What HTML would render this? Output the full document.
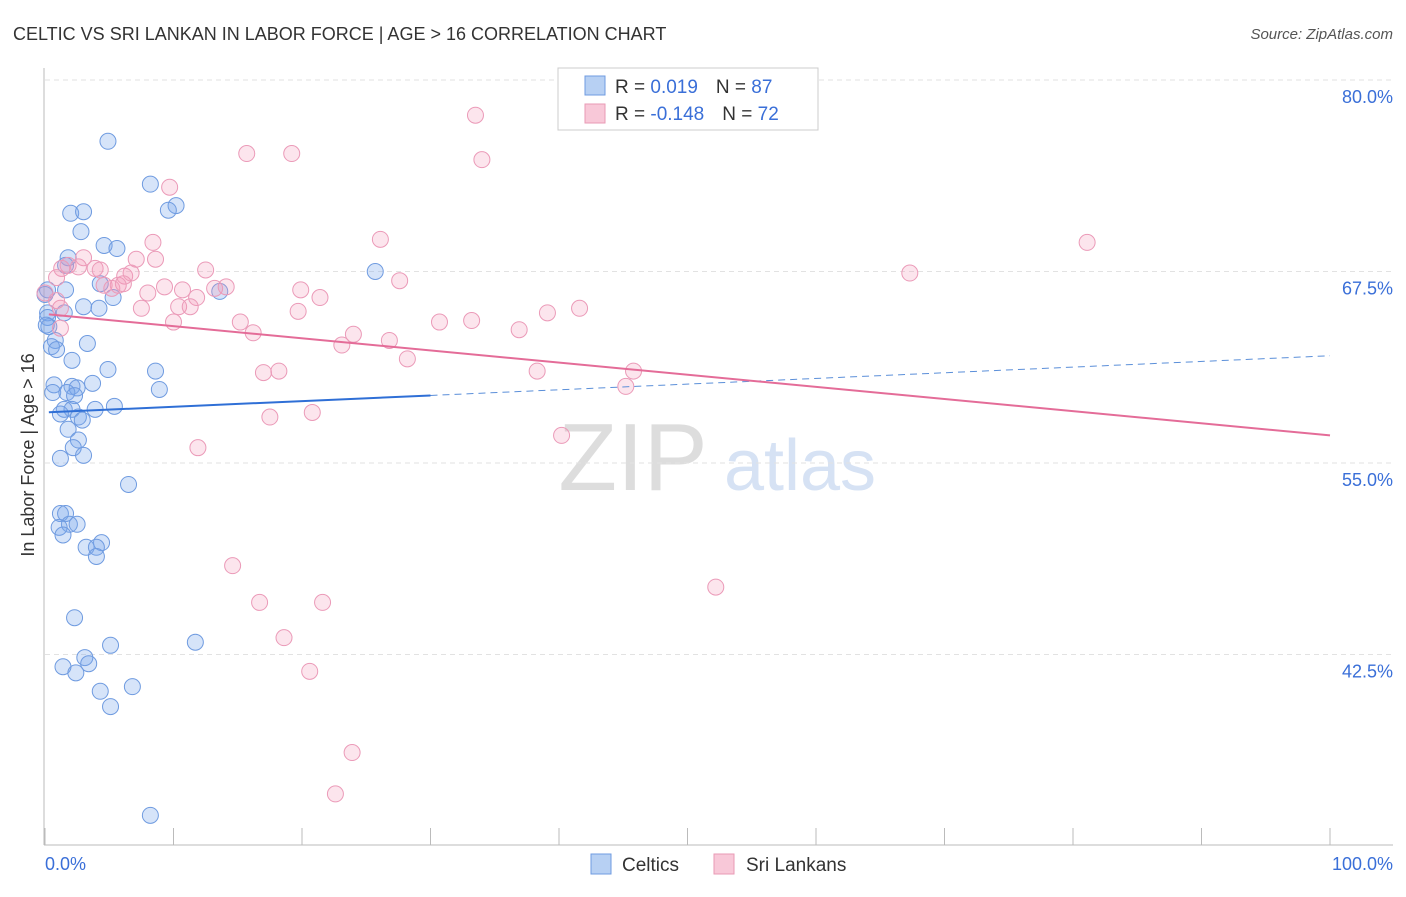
<!DOCTYPE html>
<html><head><meta charset="utf-8">
<style>
body{margin:0;background:#fff;font-family:"Liberation Sans",sans-serif;}
svg text{font-family:"Liberation Sans",sans-serif;}
</style></head>
<body>
<svg id="chart" width="1406" height="892" viewBox="0 0 1406 892">
<text x="13" y="40" font-size="18" fill="#333">CELTIC VS SRI LANKAN IN LABOR FORCE | AGE &gt; 16 CORRELATION CHART</text>
<text x="1393" y="39" font-size="15" fill="#555" font-style="italic" text-anchor="end">Source: ZipAtlas.com</text>
<g>
<text x="633" y="490" font-size="96" fill="#ddd" font-family="Liberation Serif" text-anchor="middle">ZIP</text>
<text x="800" y="490" font-size="72" fill="#d6e2f4" text-anchor="middle">atlas</text>
</g>
<g id="grid"></g>
<g id="axes"></g>
<g id="marks"></g>
<text transform="translate(34,455) rotate(-90)" font-size="18" fill="#333" text-anchor="middle">In Labor Force | Age &gt; 16</text>
<text x="45" y="870" font-size="18" fill="#3a6fd8">0.0%</text>
<text x="1393" y="870" font-size="18" fill="#3a6fd8" text-anchor="end">100.0%</text>
<g>
<rect x="558" y="68" width="260" height="62" fill="#fff" stroke="#ccc"/>
<rect x="585" y="76" width="20" height="19" fill="#b7d0f3" stroke="#6f9be0"/>
<rect x="585" y="104" width="20" height="19" fill="#f8c8d8" stroke="#e99ab5"/>
<text x="615" y="93" font-size="19" fill="#333">R = <tspan fill="#3a6fd8"> 0.019</tspan><tspan dx="18">N = </tspan><tspan fill="#3a6fd8">87</tspan></text>
<text x="615" y="120" font-size="19" fill="#333">R = <tspan fill="#3a6fd8">-0.148</tspan><tspan dx="18">N = </tspan><tspan fill="#3a6fd8">72</tspan></text>
</g>
<g>
<rect x="591" y="854" width="20" height="20" fill="#b7d0f3" stroke="#6f9be0"/>
<text x="622" y="871" font-size="19" fill="#333">Celtics</text>
<rect x="714" y="854" width="20" height="20" fill="#f8c8d8" stroke="#e99ab5"/>
<text x="746" y="871" font-size="19" fill="#333">Sri Lankans</text>
</g>
</svg>
<script>
const yTicks=[80,67.5,55,42.5];
const yTickLabels=["80.0%","67.5%","55.0%","42.5%"];
const celticsX=[4.9,8.2,10.2,9.6,2.0,3.0,2.8,4.6,5.6,1.8,1.6,25.7,4.3,1.6,5.3,0.2,3.0,4.2,1.5,0.2,0.2,0.3,3.3,0.8,0.5,0.9,2.1,4.9,8.6,3.7,0.7,0.6,2.1,2.5,1.7,2.3,8.9,3.9,5.4,1.5,2.1,1.2,2.6,2.9,1.8,2.6,2.2,3.0,1.2,6.5,1.2,1.6,1.9,2.5,1.1,1.4,4.4,3.2,4.0,4.0,2.3,5.1,11.7,3.1,3.4,1.4,2.4,4.3,6.8,5.1,8.2,0.0,0.1,13.6];
const celticsY=[76.0,73.2,71.8,71.5,71.3,71.4,70.1,69.2,69.0,68.4,67.9,67.5,66.7,66.3,65.8,66.3,65.2,65.1,64.8,64.8,64.5,63.9,62.8,63.0,62.6,62.4,61.7,61.1,61.0,60.2,60.1,59.6,60.0,59.9,59.6,59.4,59.8,58.5,58.7,58.5,58.5,58.2,58.0,57.8,57.2,56.5,56.0,55.5,55.3,53.6,51.7,51.7,51.0,51.0,50.8,50.3,49.8,49.5,49.5,48.9,44.9,43.1,43.3,42.3,41.9,41.7,41.3,40.1,40.4,39.1,32.0,66.0,64.0,66.2];
const lankanX=[33.5,15.7,19.2,34.0,9.7,8.4,26.1,81.1,1.8,3.0,1.3,0.9,2.6,3.9,4.3,6.2,6.7,7.1,8.6,12.5,67.3,27.6,4.6,5.7,5.2,6.1,8.0,9.3,10.7,11.8,13.2,14.1,19.9,21.4,1.2,1.2,7.5,10.4,11.3,10.0,15.2,16.2,19.7,24.0,23.1,26.8,30.7,33.2,36.9,39.1,41.6,28.2,38.3,45.2,45.8,17.0,18.2,17.5,20.8,40.2,11.9,14.6,16.7,21.6,52.2,18.6,20.6,23.9,22.6,0,0.9];
const lankanY=[77.7,75.2,75.2,74.8,73.0,69.4,69.6,69.4,67.9,68.4,67.7,67.1,67.8,67.7,67.6,67.2,67.4,68.3,68.3,67.6,67.4,66.9,66.6,66.6,66.4,66.7,66.1,66.5,66.3,65.8,66.4,66.5,66.3,65.8,65.1,63.8,65.1,65.2,65.2,64.2,64.2,63.5,64.9,63.4,62.7,63.0,64.2,64.3,63.7,64.8,65.1,61.8,61.0,60.0,61.0,60.9,61.0,58.0,58.3,56.8,56.0,48.3,45.9,45.9,46.9,43.6,41.4,36.1,33.4,66.1,65.6];
const celticsTrend=[58.3,62.0];
const lankanTrend=[64.7,56.8];
const NS="http://www.w3.org/2000/svg";
const xs=v=>45+v*12.85;
const ys=v=>80+(80-v)*15.32;
function mk(tag,attrs,parent){const e=document.createElementNS(NS,tag);for(const k in attrs)e.setAttribute(k,attrs[k]);parent.appendChild(e);return e;}
const grid=document.getElementById('grid'),axes=document.getElementById('axes'),marks=document.getElementById('marks');
yTicks.forEach((t,i)=>{
 const l=mk('line',{x1:45,x2:1393,y1:ys(t),y2:ys(t),stroke:'#e2e2e2','stroke-dasharray':'5,4'},grid);
 
 
 const tx=mk('text',{x:1393,y:ys(t)+23,'font-size':18,fill:'#3a6fd8','text-anchor':'end'},axes);
 tx.textContent=yTickLabels[i];
 
 
});
const ya=mk('line',{x1:44,x2:44,y1:68,y2:845,stroke:'#bbb'},axes);


const xa=mk('line',{x1:44,x2:1393,y1:845,y2:845,stroke:'#bbb'},axes);


for(let i=0;i<=10;i++){
 const t=mk('line',{x1:xs(i*10),x2:xs(i*10),y1:828,y2:845,stroke:'#bbb'},axes);
 
 
}
function dots(X,Y,fill,stroke,name){
 X.forEach((x,i)=>{
  const c=mk('circle',{cx:xs(x),cy:ys(Y[i]),r:8,fill:fill,stroke:stroke,'stroke-width':1},marks);
  
  
 });
}
dots(celticsX,celticsY,'rgba(120,165,235,0.3)','#6f9be0','celtics-point');
dots(lankanX,lankanY,'rgba(242,150,185,0.25)','#eb9ab8','srilankan-point');
const tb1=mk('line',{x1:xs(0.3),y1:ys(celticsTrend[0]+0.003*(celticsTrend[1]-celticsTrend[0])),x2:xs(30),y2:ys(celticsTrend[0]+0.3*(celticsTrend[1]-celticsTrend[0])),stroke:'#2f6fd6','stroke-width':2},marks);


const tb2=mk('line',{x1:xs(30),y1:ys(celticsTrend[0]+0.3*(celticsTrend[1]-celticsTrend[0])),x2:xs(100),y2:ys(celticsTrend[1]),stroke:'#5b8fd9','stroke-width':1,'stroke-dasharray':'7,5'},marks);


const tp=mk('line',{x1:xs(0.3),y1:ys(lankanTrend[0]),x2:xs(100),y2:ys(lankanTrend[1]),stroke:'#e46c98','stroke-width':2},marks);


</script>
</body></html>
